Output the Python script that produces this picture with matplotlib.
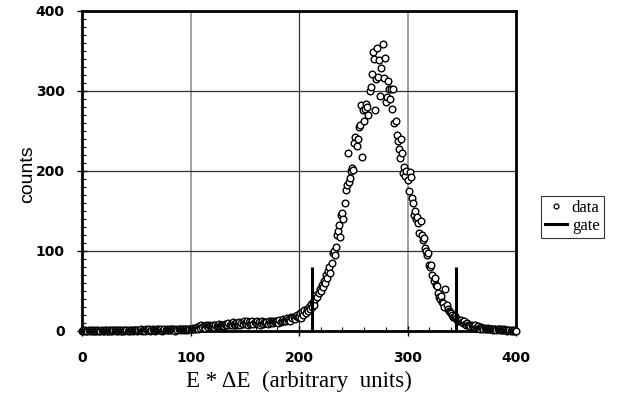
import numpy as np
import matplotlib
matplotlib.use("Agg")
import matplotlib.pyplot as plt
from matplotlib.ticker import MultipleLocator
from matplotlib.lines import Line2D

# ---- data ----
energy = np.arange(0, 401, 1)
counts = [
    0, 1, 0, 1, 0, 0, 1, 0, 1, 0,
    1, 0, 0, 1, 0, 1, 0, 0, 1, 0,
    0, 1, 1, 0, 0, 1, 0, 1, 0, 1,
    1, 0, 1, 0, 1, 1, 0, 0, 1, 0,
    1, 1, 0, 1, 0, 1, 1, 0, 1, 1,
    1, 0, 1, 1, 2, 0, 1, 1, 0, 2,
    1, 1, 2, 0, 1, 2, 1, 0, 1, 2,
    2, 1, 1, 2, 0, 1, 2, 1, 2, 1,
    1, 2, 1, 2, 2, 1, 0, 2, 1, 2,
    2, 1, 3, 2, 1, 2, 3, 1, 2, 2,
    3, 2, 4, 3, 2, 4, 5, 3, 6, 4,
    7, 5, 6, 4, 8, 6, 5, 7, 6, 5,
    6, 7, 5, 8, 6, 7, 9, 6, 8, 7,
    8, 6, 9, 7, 8, 10, 7, 9, 8, 11,
    9, 8, 10, 7, 9, 11, 8, 10, 9, 12,
    10, 9, 12, 8, 11, 9, 10, 12, 9, 11,
    10, 12, 9, 11, 8, 10, 12, 9, 11, 10,
    11, 9, 12, 10, 13, 11, 10, 12, 11, 13,
    12, 10, 14, 11, 13, 15, 12, 14, 13, 16,
    14, 15, 13, 17, 16, 18, 15, 19, 20, 17,
    18, 22, 16, 24, 20, 26, 22, 28, 25, 30,
    28, 34, 30, 36, 32, 40, 45, 42, 48, 52,
    50, 58, 55, 62, 60, 70, 66, 75, 80, 72,
    85, 98, 100, 95, 105, 120, 125, 132, 118, 145,
    148, 140, 160, 176, 182, 222, 186, 191, 200, 204,
    201, 235, 242, 231, 240, 255, 258, 282, 218, 276,
    262, 278, 284, 280, 270, 300, 305, 321, 349, 340,
    276, 315, 354, 318, 339, 294, 329, 359, 316, 341,
    286, 292, 313, 302, 290, 302, 277, 302, 260, 262,
    245, 238, 228, 216, 240, 222, 198, 205, 194, 200,
    189, 175, 199, 192, 166, 160, 145, 150, 140, 142,
    135, 122, 138, 120, 114, 116, 104, 100, 95, 98,
    83, 80, 82, 70, 62, 66, 58, 56, 47, 42,
    40, 44, 36, 35, 30, 52, 32, 28, 25, 24,
    22, 20, 18, 17, 19, 16, 14, 13, 12, 14,
    11, 10, 12, 9, 8, 10, 7, 8, 6, 7,
    6, 5, 7, 4, 5, 6, 4, 3, 5, 4,
    3, 4, 3, 2, 4, 3, 2, 3, 2, 1,
    2, 3, 1, 2, 2, 1, 2, 1, 1, 2,
    1, 1, 0, 1, 1, 0, 1, 0, 1, 0,
    0,
]
gate_positions = [212, 345]
gate_height = 80
x_ticks = [0, 100, 200, 300, 400]
y_ticks = [0, 100, 200, 300, 400]
x_label = "E * \u0394E  (arbitrary  units)"
y_label = "counts"
legend_labels = ["data", "gate"]

# ---- figure ----
fig = plt.figure(figsize=(6.18, 4.03), dpi=100)
ax = fig.add_axes([82/618, 1-331/403, (516-82)/618, (331-11)/403])

ax.plot(energy, counts, linestyle="none", marker="o", markersize=4.8,
        markerfacecolor="white", markeredgecolor="black", markeredgewidth=1.0,
        zorder=3, clip_on=False)
ax.vlines(gate_positions, 0, gate_height, colors="black", linewidth=2.2, zorder=4)

ax.set_xlim(0, 400)
ax.set_ylim(0, 400)
ax.set_xticks(x_ticks)
ax.set_yticks(y_ticks)
ax.xaxis.set_minor_locator(MultipleLocator(20))
ax.yaxis.set_minor_locator(MultipleLocator(10))
ax.tick_params(which="major", direction="inout", length=7, width=1.0,
               labelsize=10)
ax.tick_params(axis="x", which="major", pad=11)
ax.tick_params(axis="y", which="major", pad=9)
ax.tick_params(which="minor", direction="in", length=3, width=0.8)
for lab in ax.get_xticklabels() + ax.get_yticklabels():
    lab.set_fontweight("bold")
    lab.set_family("DejaVu Sans")

ax.grid(True, which="major", color="#333333", linewidth=0.9)
for i, gl in enumerate(ax.get_xgridlines()):
    if x_ticks[i] in (100, 300):
        gl.set_color("#999999")
        gl.set_linewidth(1.3)
ax.set_axisbelow(True)

for sp in ax.spines.values():
    sp.set_linewidth(2.0)
    sp.set_color("black")

ax.set_ylabel(y_label, family="Liberation Sans", fontsize=14)
ax.yaxis.set_label_coords(-0.106, 0.49)
ax.set_xlabel(x_label, family="Liberation Serif", fontsize=16.5, labelpad=4)

handles = [
    Line2D([], [], linestyle="none", marker="o", markersize=3.5,
           markerfacecolor="white", markeredgecolor="black", markeredgewidth=0.9),
    Line2D([], [], color="black", linewidth=2.2),
]
leg = fig.legend(handles, legend_labels, loc="center left",
                 bbox_to_anchor=(541/618, 1-217/403),
                 prop={"family": "Liberation Serif", "size": 12},
                 frameon=True, fancybox=False, edgecolor="black",
                 handlelength=1.3, handletextpad=0.3, borderpad=0.25,
                 labelspacing=0.15, borderaxespad=0.0)
leg.get_frame().set_linewidth(0.8)

fig.savefig("out.png", dpi=100)
